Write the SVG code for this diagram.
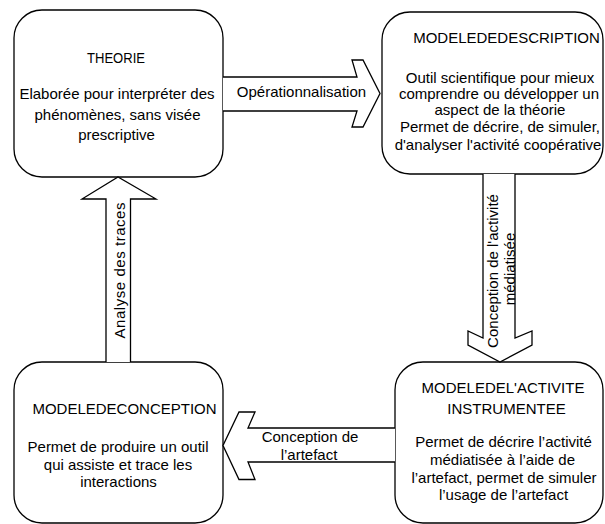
<svg xmlns="http://www.w3.org/2000/svg" width="605" height="524" viewBox="0 0 605 524">
<style>
.box{fill:#fff;stroke:#000;stroke-width:1.3}
.arr{fill:#fff;stroke:#000;stroke-width:1.3;stroke-linejoin:miter}
text{font-family:"Liberation Sans",Arial,sans-serif;font-size:15px;fill:#000;text-anchor:middle}
</style>
<rect width="605" height="524" fill="#fff"/>
<g id="theorie">
<rect class="box" x="14" y="10" width="209" height="167" rx="28" ry="28"/>
<text x="116" y="63" textLength="58" lengthAdjust="spacingAndGlyphs">THEORIE</text>
<text x="117" y="99">Elaborée pour interpréter des</text>
<text x="117.5" y="120">phénomènes, sans visée</text>
<text x="116.5" y="140">prescriptive</text>
</g>
<g id="description">
<rect class="box" x="382" y="12" width="221" height="162" rx="28" ry="28"/>
<text x="506.5" y="43">MODELEDEDESCRIPTION</text>
<text x="500" y="82.5">Outil scientifique pour mieux</text>
<text x="499" y="98.5">comprendre ou développer un</text>
<text x="500" y="115">aspect de la théorie</text>
<text x="500" y="132">Permet de décrire, de simuler,</text>
<text x="498" y="150">d'analyser l'activité coopérative</text>
</g>
<g id="conception">
<rect class="box" x="14" y="362" width="209" height="161" rx="28" ry="28"/>
<text x="124.5" y="414">MODELEDECONCEPTION</text>
<text x="118" y="451.5">Permet de produire un outil</text>
<text x="118" y="470">qui assiste et trace les</text>
<text x="118.5" y="487">interactions</text>
</g>
<g id="activite">
<rect class="box" x="395" y="362" width="208" height="161" rx="28" ry="28"/>
<text x="503" y="393">MODELEDEL'ACTIVITE</text>
<text x="506.5" y="414">INSTRUMENTEE</text>
<text x="503.5" y="446.5">Permet de décrire l’activité</text>
<text x="502.5" y="465">médiatisée à l’aide de</text>
<text x="504" y="482.5">l’artefact, permet de simuler</text>
<text x="503.5" y="500">l’usage de l’artefact</text>
</g>
<g id="connectors">
<path class="arr" d="M223,77 L357,77 L352,60 L363,60 L380,93.5 L363,127 L352,127 L357,111 L223,111"/>
<text x="301.5" y="97">Opérationnalisation</text>
<path class="arr" d="M483,174 L483,338 L468,331 L468,345 L500,362 L532,345 L532,331 L515,338 L515,174"/>
<text transform="translate(497.5,271) rotate(-90)">Conception de l'activité</text>
<text transform="translate(514.5,269) rotate(-90)">médiatisée</text>
<path class="arr" d="M395,428 L248,428 L255,412 L239,412 L223,445.5 L239,479.5 L255,479.5 L248,462 L395,462"/>
<text x="310" y="441.5">Conception de</text>
<text x="309" y="459.5">l’artefact</text>
<path class="arr" d="M106,362 L106,199 L82,199 L118,177 L156,199 L130.5,199 L130.5,362"/>
<text transform="translate(124.5,270.5) rotate(-90)" textLength="136">Analyse des traces</text>
</g>
</svg>
